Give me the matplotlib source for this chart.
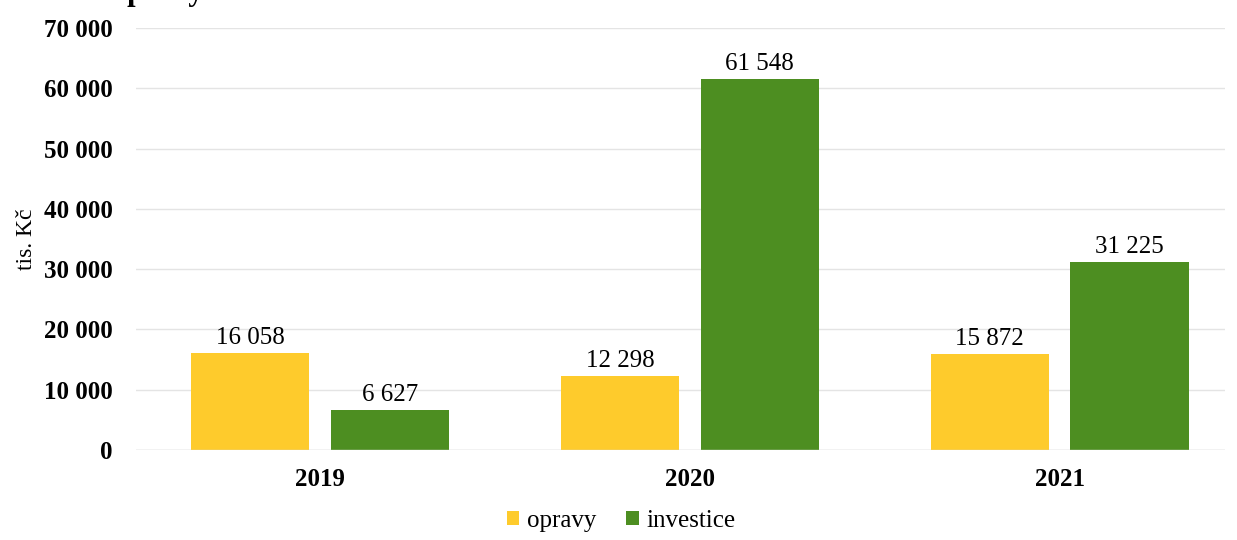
import numpy as np
import matplotlib.pyplot as plt

plt.rcParams['font.family'] = ['Liberation Serif', 'DejaVu Serif']

roky = ['2019', '2020', '2021']
opravy = [16058, 12298, 15872]
investice = [6627, 61548, 31225]

def fmt(v):
    return f'{v:,}'.replace(',', ' ')

fig = plt.figure(figsize=(12.37, 5.40), dpi=100)
ax = fig.add_axes([0.110, 0.1667, 0.880, 0.7815])

x = np.arange(len(roky))
w = 0.32
b1 = ax.bar(x - 0.189, opravy, w, color='#fecb2c', label='opravy')
b2 = ax.bar(x + 0.189, investice, w, color='#4d8e21', label='investice')

for bars, vals in ((b1, opravy), (b2, investice)):
    for r, v in zip(bars, vals):
        ax.annotate(fmt(v), (r.get_x() + r.get_width() / 2, v),
                    xytext=(0, 3), textcoords='offset points',
                    ha='center', va='bottom', fontsize=18)

ax.set_ylim(0, 70000)
ax.set_xlim(-0.497, 2.446)
ax.set_yticks(range(0, 70001, 10000))
ax.set_yticklabels([fmt(v) for v in range(0, 70001, 10000)],
                   fontsize=18, fontweight='bold')
ax.set_xticks(x)
ax.set_xticklabels(roky, fontsize=18, fontweight='bold')
ax.tick_params(axis='y', length=0, pad=17)
ax.tick_params(axis='x', length=0, pad=13)
ax.grid(axis='y', color='#e4e4e4', linewidth=1)
ax.set_axisbelow(True)
for s in ax.spines.values():
    s.set_visible(False)
ax.axhline(0, color='#d9d9d9', linewidth=1)
ax.set_ylabel('tis. Kč', fontsize=17)
ax.yaxis.set_label_coords(-0.091, 0.5)

# nadpis nad grafem, z vetsi casti mimo obrazek
fig.text(0.091, 1.0, 'opravy', fontsize=22, fontweight='bold',
         va='baseline')

fig.legend(handles=[b1, b2], loc='center', bbox_to_anchor=(0.502, 0.035),
           ncol=2, frameon=False, fontsize=18, handlelength=0.5,
           handleheight=0.5, handletextpad=0.3, columnspacing=1.2)

fig.savefig('out.png', dpi=100)
